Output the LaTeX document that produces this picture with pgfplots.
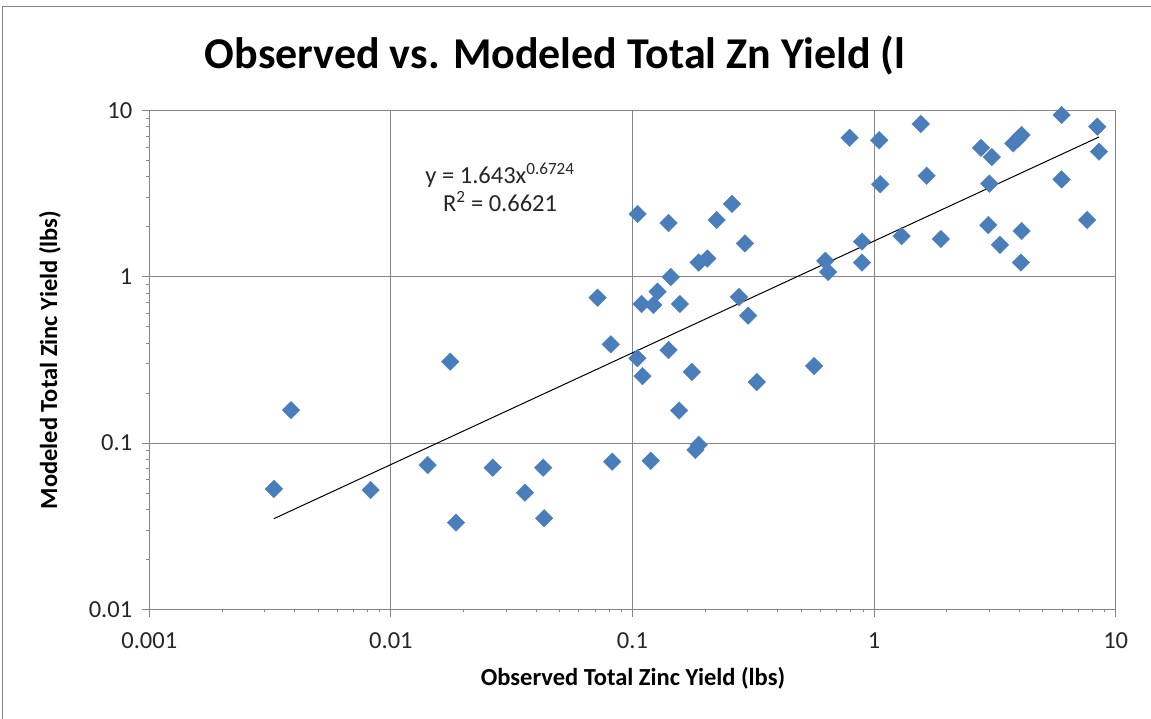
\documentclass[border=0pt]{standalone}
\usepackage{pgfplots}
\pgfplotsset{compat=1.18}
\usepackage{fontspec}
\setmainfont{Carlito}
\definecolor{mk}{HTML}{4A7EBB}
\definecolor{gr}{RGB}{134,134,134}
\begin{document}
\begin{tikzpicture}
\path[use as bounding box] (-149.3pt,-109.7pt) rectangle (1001.7pt,609.3pt);
\draw[gr, line width=1pt] (-146.3pt,-130pt) -- (-146.3pt,602.3pt) -- (1020pt,602.3pt);
\begin{axis}[
  at={(0pt,0pt)}, anchor=south west,
  scale only axis, width=966.4pt, height=498.6pt,
  xmode=log, ymode=log,
  xmin=0.001, xmax=10, ymin=0.01, ymax=10,
  xtick={0.001,0.01,0.1,1,10}, xticklabels={0.001,0.01,0.1,1,10},
  ytick={0.01,0.1,1,10}, yticklabels={0.01,0.1,1,10},
  minor tick num=0, minor xtick={}, minor ytick={},
  xtick pos=left, ytick pos=left, tick align=outside,
  major tick length=7.5pt,
  grid=major, major grid style={gr, line width=1pt},
  axis line style={gr, line width=1pt},
  tick style={gr, line width=1pt},
  tick label style={font=\fontsize{24.5}{26}\selectfont, text=black!85},
  xticklabel style={yshift=-12pt},
  yticklabel style={xshift=-6pt},
  title={Observed vs. Modeled Total Zn Yield (l},
  title style={font=\fontsize{44}{48}\selectfont\bfseries, at={(rel axis cs:0.4198,1.0977)}, anchor=center},
  xlabel={Observed Total Zinc Yield (lbs)},
  xlabel style={font=\fontsize{24.5}{26}\selectfont\bfseries, at={(rel axis cs:0.5005,-0.1378)}, anchor=center},
  ylabel={Modeled Total Zinc Yield (lbs)},
  ylabel style={font=\fontsize{24.5}{26}\selectfont\bfseries, at={(rel axis cs:-0.1028,0.5)}, anchor=center, rotate=0},
  clip=false,
]
\addplot[black, line width=1pt] coordinates {(0.00328,0.0351) (8.53,6.95)};
\addplot[only marks, mark=square*, mark size=6.2pt, mark options={rotate=45, fill=mk, draw=mk}] table {
x y
0.00328 0.053
0.00386 0.158
0.00824 0.0522
0.0142 0.0738
0.0176 0.309
0.0186 0.0332
0.0264 0.0711
0.0359 0.0503
0.0427 0.0711
0.0431 0.0353
0.0717 0.750
0.0813 0.393
0.0824 0.0773
0.1047 0.324
0.110 0.253
0.105 2.39
0.109 0.687
0.119 0.0783
0.122 0.678
0.127 0.815
0.141 0.363
0.141 2.11
0.144 0.998
0.156 0.157
0.157 0.687
0.176 0.268
0.182 0.0909
0.188 0.0975
0.188 1.22
0.204 1.29
0.223 2.20
0.258 2.75
0.276 0.757
0.292 1.59
0.301 0.585
0.327 0.233
0.565 0.291
0.628 1.25
0.645 1.07
0.792 6.88
0.891 1.63
0.891 1.22
1.05 6.64
1.06 3.61
1.30 1.76
1.56 8.32
1.65 4.06
1.89 1.69
2.77 5.97
3.07 5.26
3.00 3.64
2.97 2.05
3.32 1.56
3.77 6.36
3.95 6.80
4.08 7.14
4.08 1.89
4.05 1.22
5.97 9.42
5.97 3.86
7.62 2.20
8.39 8.01
8.53 5.67
};
\node[font=\fontsize{24.5}{28}\selectfont, align=center, text=black!85] at (axis cs:0.0283,3.45) {y = 1.643x\textsuperscript{0.6724}\\R\textsuperscript{2} = 0.6621};
\end{axis}
\end{tikzpicture}
\end{document}
